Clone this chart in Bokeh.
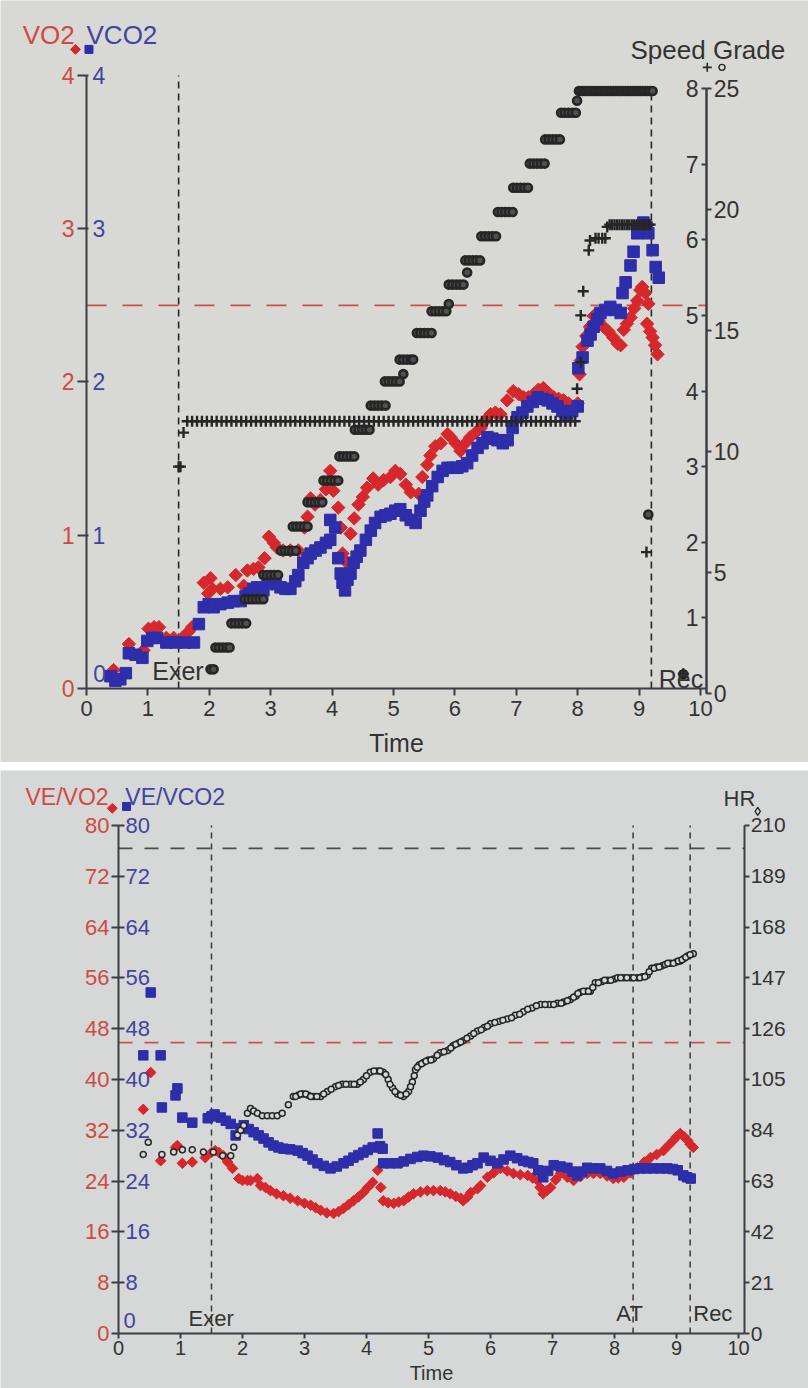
import numpy as np
from bokeh.plotting import figure
from bokeh.models import LinearAxis, FixedTicker, Range1d
from bokeh.layouts import column
from bokeh.core.properties import value
from bokeh.embed import file_html
from bokeh.resources import INLINE

# ====================== DATA : upper panel ======================
VO2_T = [0.44, 0.69, 0.93, 1.01, 1.10, 1.18, 1.30, 1.42, 1.56, 1.66, 1.72, 1.91, 1.98, 2.02,
         2.05, 2.18, 2.30, 2.43, 2.56, 2.62, 2.72, 2.80, 2.90, 2.97, 3.05, 3.10, 3.20, 3.32,
         3.45, 3.55, 3.60, 3.65, 3.72, 3.81, 3.90, 3.97, 4.02, 4.10, 4.14, 4.17, 4.22, 4.30,
         4.36, 4.43, 4.50, 4.57, 4.67, 4.75, 4.84, 4.95, 5.03, 5.11, 5.20, 5.28, 5.41, 5.47,
         5.55, 5.60, 5.68, 5.77, 5.88, 5.93, 6.01, 6.09, 6.17, 6.25, 6.34, 6.42, 6.50, 6.58,
         6.66, 6.74, 6.85, 6.95, 7.04, 7.12, 7.20, 7.28, 7.36, 7.44, 7.52, 7.61, 7.69, 7.77,
         7.85, 7.93, 8.00, 8.03, 8.05, 8.08, 8.14, 8.20, 8.26, 8.34, 8.42, 8.50, 8.58, 8.65,
         8.70, 8.75, 8.80, 8.86, 8.92, 8.97, 9.02, 9.05, 9.10, 9.15, 9.13, 9.18, 9.22, 9.26, 9.30]
VO2 = [0.12, 0.29, 0.25, 0.39, 0.40, 0.40, 0.33, 0.33, 0.33, 0.37, 0.40, 0.69, 0.62, 0.72,
       0.65, 0.65, 0.66, 0.74, 0.67, 0.77, 0.78, 0.79, 0.85, 0.99, 0.95, 0.92, 0.90, 0.90,
       0.90, 1.05, 1.12, 1.24, 1.20, 1.23, 1.30, 1.42, 1.29, 1.18, 1.05, 0.88, 0.83, 1.01,
       1.11, 1.20, 1.25, 1.31, 1.37, 1.33, 1.36, 1.38, 1.42, 1.40, 1.33, 1.28, 1.27, 1.38,
       1.46, 1.52, 1.58, 1.60, 1.66, 1.64, 1.60, 1.55, 1.60, 1.64, 1.67, 1.70, 1.75, 1.79,
       1.80, 1.79, 1.88, 1.94, 1.92, 1.90, 1.90, 1.92, 1.95, 1.96, 1.93, 1.90, 1.89, 1.88,
       1.86, 1.84, 1.86, 2.05, 2.14, 2.23, 2.30, 2.36, 2.43, 2.40, 2.36, 2.33, 2.29, 2.25,
       2.24, 2.34, 2.38, 2.42, 2.48, 2.53, 2.60, 2.62, 2.58, 2.51, 2.38, 2.33, 2.29, 2.24, 2.18]

VCO2_T = [0.39, 0.47, 0.55, 0.64, 0.69, 0.80, 0.91, 0.99, 1.07, 1.15, 1.30, 1.45, 1.60, 1.75,
          1.83, 1.91, 1.99, 2.07, 2.18, 2.30, 2.40, 2.51, 2.59, 2.65, 2.72, 2.78, 2.88, 2.95,
          3.00, 3.08, 3.16, 3.24, 3.32, 3.40, 3.45, 3.53, 3.60, 3.65, 3.73, 3.81, 3.90, 3.97,
          3.97, 4.05, 4.10, 4.14, 4.17, 4.21, 4.25, 4.30, 4.35, 4.40, 4.46, 4.55, 4.63, 4.70,
          4.79, 4.87, 4.95, 5.03, 5.11, 5.20, 5.28, 5.36, 5.44, 5.50, 5.55, 5.63, 5.72, 5.80,
          5.88, 5.96, 6.04, 6.12, 6.20, 6.28, 6.37, 6.45, 6.53, 6.61, 6.69, 6.78, 6.86, 6.94,
          7.02, 7.10, 7.18, 7.27, 7.35, 7.43, 7.51, 7.59, 7.67, 7.75, 7.83, 7.91, 8.00, 8.01,
          8.08, 8.16, 8.21, 8.26, 8.32, 8.37, 8.45, 8.53, 8.62, 8.70, 8.73, 8.78, 8.86, 8.91,
          8.97, 9.02, 9.07, 9.12, 9.15, 9.22, 9.27, 9.32]
VCO2 = [0.08, 0.05, 0.06, 0.10, 0.23, 0.22, 0.20, 0.31, 0.33, 0.33, 0.30, 0.30, 0.30, 0.30,
        0.42, 0.53, 0.55, 0.53, 0.55, 0.56, 0.57, 0.57, 0.60, 0.62, 0.65, 0.66, 0.64, 0.70,
        0.71, 0.68, 0.66, 0.65, 0.65, 0.70, 0.74, 0.82, 0.85, 0.88, 0.90, 0.92, 0.95, 0.97,
        1.10, 1.05, 0.85, 0.75, 0.69, 0.64, 0.71, 0.75, 0.82, 0.86, 0.90, 0.97, 1.03, 1.08,
        1.12, 1.13, 1.14, 1.16, 1.17, 1.13, 1.10, 1.08, 1.16, 1.22, 1.26, 1.32, 1.38, 1.42,
        1.44, 1.44, 1.44, 1.45, 1.47, 1.52, 1.57, 1.60, 1.64, 1.63, 1.62, 1.60, 1.62, 1.70,
        1.77, 1.80, 1.84, 1.87, 1.90, 1.89, 1.88, 1.86, 1.84, 1.81, 1.79, 1.81, 1.84, 2.09,
        2.16, 2.27, 2.31, 2.36, 2.41, 2.45, 2.47, 2.49, 2.47, 2.45, 2.58, 2.65, 2.76, 2.85,
        2.97, 3.01, 3.04, 3.01, 2.97, 2.86, 2.75, 2.68]

SPEED_T = [1.50, 1.53, 1.58,
           1.64, 1.72, 1.80, 1.88, 1.96, 2.04, 2.12, 2.20, 2.28, 2.36, 2.44, 2.52, 2.60, 2.68,
           2.76, 2.84, 2.92, 3.00, 3.08, 3.16, 3.24, 3.32, 3.40, 3.48, 3.56, 3.64, 3.72, 3.80,
           3.88, 3.96, 4.04, 4.12, 4.20, 4.28, 4.36, 4.44, 4.52, 4.60, 4.68, 4.76, 4.84, 4.92,
           5.00, 5.08, 5.16, 5.24, 5.32, 5.40, 5.48, 5.56, 5.64, 5.72, 5.80, 5.88, 5.96, 6.04,
           6.12, 6.20, 6.28, 6.36, 6.44, 6.52, 6.60, 6.68, 6.76, 6.84, 6.92, 7.00, 7.08, 7.16,
           7.24, 7.32, 7.40, 7.48, 7.56, 7.64, 7.72, 7.80, 7.88, 7.96,
           7.99, 8.05, 8.05, 8.09, 8.18, 8.20, 8.29, 8.34, 8.40, 8.45, 8.48,
           8.52, 8.56, 8.60, 8.64, 8.68, 8.72, 8.76, 8.80, 8.84, 8.88, 8.92, 8.96, 9.00, 9.04,
           9.08, 9.12, 9.16, 9.18,
           9.12, 9.72]
SPEED = [3.0, 3.0, 3.45,
         3.6, 3.6, 3.6, 3.6, 3.6, 3.6, 3.6, 3.6, 3.6, 3.6, 3.6, 3.6, 3.6, 3.6,
         3.6, 3.6, 3.6, 3.6, 3.6, 3.6, 3.6, 3.6, 3.6, 3.6, 3.6, 3.6, 3.6, 3.6,
         3.6, 3.6, 3.6, 3.6, 3.6, 3.6, 3.6, 3.6, 3.6, 3.6, 3.6, 3.6, 3.6, 3.6,
         3.6, 3.6, 3.6, 3.6, 3.6, 3.6, 3.6, 3.6, 3.6, 3.6, 3.6, 3.6, 3.6, 3.6,
         3.6, 3.6, 3.6, 3.6, 3.6, 3.6, 3.6, 3.6, 3.6, 3.6, 3.6, 3.6, 3.6, 3.6,
         3.6, 3.6, 3.6, 3.6, 3.6, 3.6, 3.6, 3.6, 3.6, 3.6,
         4.03, 4.38, 5.0, 5.32, 5.86, 5.99, 6.02, 6.02, 6.02, 6.02, 6.17,
         6.2, 6.2, 6.2, 6.2, 6.2, 6.2, 6.2, 6.2, 6.2, 6.2, 6.2, 6.2, 6.2, 6.2,
         6.2, 6.2, 6.2, 6.2,
         1.87, 0.26]

GRADE_T = [2.02, 2.07,
           2.10, 2.16, 2.22, 2.28, 2.33,
           2.36, 2.42, 2.48, 2.54, 2.60,
           2.58, 2.64, 2.70, 2.76, 2.82, 2.88,
           2.88, 2.94, 3.00, 3.06, 3.12,
           3.17, 3.23, 3.29, 3.35, 3.41,
           3.36, 3.42, 3.48, 3.54, 3.60,
           3.60, 3.66, 3.72, 3.78, 3.84,
           3.86, 3.92, 3.98, 4.04, 4.10,
           4.12, 4.18, 4.24, 4.30, 4.36,
           4.37, 4.43, 4.49, 4.55, 4.61,
           4.63, 4.69, 4.75, 4.81, 4.87,
           4.86, 4.92, 4.98, 5.04, 5.10,
           5.10, 5.16, 5.22, 5.28, 5.32, 5.16,
           5.38, 5.44, 5.50, 5.56, 5.62,
           5.62, 5.68, 5.74, 5.80, 5.86, 5.90,
           5.90, 5.96, 6.02, 6.08, 6.14, 6.20,
           6.17, 6.23, 6.29, 6.35, 6.41,
           6.43, 6.49, 6.55, 6.61, 6.67,
           6.70, 6.76, 6.82, 6.88, 6.94,
           6.95, 7.01, 7.07, 7.13, 7.19,
           7.22, 7.28, 7.34, 7.40, 7.46,
           7.47, 7.53, 7.59, 7.65, 7.71,
           7.73, 7.79, 7.85, 7.91, 7.97, 7.99,
           8.02, 8.06, 8.10, 8.14, 8.18, 8.22, 8.26, 8.30, 8.34, 8.38, 8.42, 8.46, 8.50,
           8.54, 8.58, 8.62, 8.66, 8.70, 8.74, 8.78, 8.82, 8.86, 8.90, 8.94, 8.98, 9.02,
           9.06, 9.10, 9.14, 9.18, 9.22,
           9.15, 9.72]
GRADE = [1.0, 1.0,
         1.9, 1.9, 1.9, 1.9, 1.9,
         2.9, 2.9, 2.9, 2.9, 2.9,
         3.9, 3.9, 3.9, 3.9, 3.9, 3.9,
         4.9, 4.9, 4.9, 4.9, 4.9,
         5.9, 5.9, 5.9, 5.9, 5.9,
         6.9, 6.9, 6.9, 6.9, 6.9,
         7.9, 7.9, 7.9, 7.9, 7.9,
         8.8, 8.8, 8.8, 8.8, 8.8,
         9.8, 9.8, 9.8, 9.8, 9.8,
         10.9, 10.9, 10.9, 10.9, 10.9,
         11.9, 11.9, 11.9, 11.9, 11.9,
         12.9, 12.9, 12.9, 12.9, 12.9,
         13.8, 13.8, 13.8, 13.8, 13.8, 13.2,
         14.9, 14.9, 14.9, 14.9, 14.9,
         15.8, 15.8, 15.8, 15.8, 15.8, 16.1,
         16.9, 16.9, 16.9, 16.9, 16.9, 17.4,
         17.9, 17.9, 17.9, 17.9, 17.9,
         18.9, 18.9, 18.9, 18.9, 18.9,
         19.9, 19.9, 19.9, 19.9, 19.9,
         20.9, 20.9, 20.9, 20.9, 20.9,
         21.9, 21.9, 21.9, 21.9, 21.9,
         22.9, 22.9, 22.9, 22.9, 22.9,
         24.0, 24.0, 24.0, 24.0, 24.0, 24.5,
         24.9, 24.9, 24.9, 24.9, 24.9, 24.9, 24.9, 24.9, 24.9, 24.9, 24.9, 24.9, 24.9,
         24.9, 24.9, 24.9, 24.9, 24.9, 24.9, 24.9, 24.9, 24.9, 24.9, 24.9, 24.9, 24.9,
         24.9, 24.9, 24.9, 24.9, 24.9,
         7.4, 0.8]

TOP_TIME_TICKS = [0, 1, 2, 3, 4, 5, 6, 7, 8, 9, 10]
VO2_TICKS = [0, 1, 2, 3, 4]
VCO2_TICKS = [1, 2, 3, 4]
SPEED_TICKS = [1, 2, 3, 4, 5, 6, 7, 8]
GRADE_TICKS = [0, 5, 10, 15, 20, 25]
TOP_EXER_T = 1.5
TOP_REC_T = 9.2
VO2_REF_LINE = 2.5

# ====================== DATA : lower panel ======================
HR_T = [0.40, 0.48, 0.70, 0.89, 1.03, 1.19, 1.37, 1.53, 1.68, 1.81, 1.86, 1.92, 1.97, 2.02,
        2.08, 2.13, 2.18, 2.24, 2.32, 2.40, 2.48, 2.56, 2.64, 2.74, 2.82, 2.90, 2.98, 3.06,
        3.15, 3.26, 3.37, 3.50, 3.61, 3.74, 3.85, 3.95, 4.06, 4.18, 4.27, 4.35, 4.42, 4.50,
        4.60, 4.68, 4.74, 4.79, 4.85, 4.92, 5.00, 5.08, 5.19, 5.31, 5.40, 5.48, 5.56, 5.68,
        5.79, 5.90, 6.00, 6.14, 6.27, 6.40, 6.53, 6.67, 6.81, 6.95, 7.08, 7.18, 7.29, 7.38,
        7.45, 7.55, 7.61, 7.69, 7.80, 7.89, 8.00, 8.15, 8.26, 8.37, 8.45, 8.53, 8.60, 8.68,
        8.77, 8.90, 9.00, 9.06, 9.12, 9.18, 9.27,
        2.86, 2.94, 3.02, 3.10, 3.20, 3.31, 3.43, 3.55, 3.67, 3.80, 3.90, 4.00, 4.12, 4.22,
        4.31, 4.38, 4.46, 4.55, 4.64, 4.71, 4.77, 4.82, 4.89, 4.96, 5.04,
        5.14, 5.25, 5.36, 5.44, 5.52, 5.62, 5.73, 5.85, 5.95, 6.07, 6.20, 6.34, 6.47, 6.60,
        6.74, 6.88, 7.02, 7.14, 7.24, 7.34, 7.41, 7.50, 7.58, 7.65, 7.74, 7.84, 7.94, 8.05,
        8.10, 8.20, 8.31, 8.41, 8.49, 8.56, 8.64, 8.72, 8.82, 8.86, 8.95, 9.03, 9.09, 9.15,
        9.22]
HR = [74, 79, 74, 75, 76, 76, 75, 75, 73.5, 73.5, 77, 82, 84, 86,
      91, 93, 92, 91, 90, 90, 90, 90, 91, 94.5, 98, 98.5, 99, 98.5,
      98, 98, 100, 102, 103, 103, 103, 105, 108, 108.5, 108, 105, 101.5, 99,
      98, 100, 104, 109, 111, 112, 113, 113.5, 116, 117, 119, 120, 121, 123,
      125, 126.5, 128, 129, 130, 131.5, 133, 134.5, 136, 136, 136.5, 137, 138, 139.5,
      141, 141.5, 141.5, 145, 145.5, 146, 146.5, 147, 147, 147, 147.5, 148, 151, 151.5,
      152, 153, 153.5, 154, 155, 156, 157,
      98, 99, 99, 98, 98, 99, 101, 102.5, 103, 103, 104, 106.5, 108.5, 108.5,
      107, 103, 100, 98.5, 99, 102, 106.5, 110, 111.5, 112.5, 113,
      115, 116.5, 118, 119.5, 120.5, 122, 124, 125.5, 127, 128.5, 129.5, 130.5, 132, 134,
      135.5, 136, 136, 136.5, 137.5, 139, 140.5, 141.5, 141.5, 143, 145, 146, 146, 147,
      147, 147, 147, 147, 147.5, 149.5, 151, 151.5, 152.5, 153, 153, 154, 154.5, 155.5,
      156.5]

VEVO2_T = [0.40, 0.52, 0.68, 0.92, 0.95, 1.03, 1.19, 1.40, 1.50, 1.56, 1.62, 1.69, 1.76, 1.84,
           1.94, 2.00, 2.08, 2.13, 2.24, 2.29, 2.37, 2.45, 2.55, 2.66, 2.77, 2.89, 3.00, 3.10,
           3.18, 3.26, 3.36, 3.47, 3.55, 3.63, 3.71, 3.79, 3.87, 3.95, 4.02, 4.10, 4.18, 4.23,
           4.27, 4.35, 4.44, 4.52, 4.60, 4.68, 4.76, 4.87, 4.98, 5.08, 5.19, 5.27, 5.35, 5.44,
           5.52, 5.56, 5.63, 5.68, 5.79, 5.84, 5.95, 6.05, 6.16, 6.27, 6.37, 6.48, 6.60, 6.68,
           6.76, 6.80, 6.85, 6.91, 6.97, 7.05, 7.13, 7.24, 7.34, 7.45, 7.56, 7.66, 7.77, 7.88,
           7.98, 8.06, 8.15, 8.26, 8.37, 8.48, 8.58, 8.68, 8.79, 8.87, 8.95, 9.00, 9.06, 9.12,
           9.18, 9.22, 9.27]
VEVO2 = [35.3, 41.1, 27.2, 29.3, 29.6, 26.8, 27.0, 27.7, 28.5, 28.8, 28.5, 28.0, 27.0, 26.0,
         24.4, 24.1, 24.1, 24.1, 24.4, 23.3, 23.0, 22.5, 22.0, 21.7, 21.3, 20.9, 20.5, 20.2,
         19.8, 19.4, 19.0, 18.9, 19.2, 19.7, 20.3, 20.9, 21.5, 22.2, 23.0, 23.8, 25.7, 23.0,
         20.9, 20.6, 20.5, 20.7, 20.9, 21.5, 22.0, 22.3, 22.5, 22.5, 22.5, 22.3, 22.0, 21.6,
         21.3, 20.9, 21.5, 22.2, 22.8, 23.3, 24.6, 25.3, 26.0, 25.6, 25.2, 25.0, 24.9, 24.5,
         24.1, 23.0, 22.0, 22.5, 23.0, 24.2, 25.2, 24.6, 24.1, 24.7, 25.2, 25.2, 25.2, 24.8,
         24.4, 24.5, 24.6, 25.3, 26.1, 27.0, 27.7, 28.2, 28.8, 29.6, 30.4, 31.0, 31.5, 31.0,
         30.4, 29.8, 29.3]

VEVCO2_T = [0.40, 0.52, 0.68, 0.70, 0.92, 0.95, 1.03, 1.19, 1.44, 1.50, 1.55, 1.65, 1.73, 1.81,
            1.89, 1.97, 2.02, 2.10, 2.18, 2.26, 2.34, 2.42, 2.50, 2.58, 2.66, 2.77, 2.89, 2.97,
            3.05, 3.13, 3.21, 3.31, 3.42, 3.52, 3.63, 3.71, 3.79, 3.87, 3.95, 4.02, 4.10, 4.18,
            4.22, 4.26, 4.27, 4.38, 4.50, 4.60, 4.71, 4.82, 4.92, 5.03, 5.15, 5.25, 5.35, 5.45,
            5.56, 5.63, 5.71, 5.79, 5.89, 6.00, 6.11, 6.21, 6.32, 6.43, 6.53, 6.61, 6.69, 6.77,
            6.85, 6.93, 7.02, 7.13, 7.24, 7.32, 7.40, 7.48, 7.56, 7.66, 7.77, 7.88, 7.98, 8.10,
            8.21, 8.32, 8.42, 8.52, 8.63, 8.74, 8.85, 8.94, 9.02, 9.11, 9.17, 9.23]
VEVCO2 = [43.8, 53.7, 43.8, 35.6, 37.5, 38.6, 34.0, 33.2, 33.9, 34.2, 34.5, 34.0, 33.5, 33.0,
          31.2, 32.3, 32.8, 32.2, 31.7, 31.2, 30.7, 30.1, 29.6, 29.3, 29.1, 29.0, 28.8, 28.4,
          28.0, 27.4, 26.8, 26.4, 26.0, 26.3, 26.8, 27.2, 27.7, 28.1, 28.5, 28.9, 29.3, 31.5,
          29.5, 29.1, 26.8, 26.8, 26.8, 27.1, 27.5, 27.8, 28.0, 27.9, 27.7, 27.3, 27.0, 26.5,
          26.0, 26.1, 26.5, 26.8, 27.7, 27.2, 26.8, 27.4, 28.0, 27.6, 27.2, 27.0, 26.8, 25.7,
          24.6, 25.6, 26.5, 26.3, 26.1, 25.5, 24.9, 25.5, 26.1, 26.0, 26.0, 25.6, 25.2, 25.5,
          25.7, 25.9, 26.0, 26.0, 26.0, 26.0, 26.0, 25.9, 25.7, 24.9, 24.6, 24.4]

BOT_TIME_TICKS = [0, 1, 2, 3, 4, 5, 6, 7, 8, 9, 10]
VEVO2_TICKS = [0, 8, 16, 24, 32, 40, 48, 56, 64, 72, 80]
VEVCO2_TICKS = [8, 16, 24, 32, 40, 48, 56, 64, 72, 80]
HR_TICKS = [0, 21, 42, 63, 84, 105, 126, 147, 168, 189, 210]
BOT_EXER_T = 1.5
BOT_AT_T = 8.3
BOT_REC_T = 9.22
HR_REF_LINE = 200.5
RED_REF_LINE = 45.8

# ====================== STYLE ======================
FONT = "Liberation Sans"
BG_TOP = "#d8d8d4"
BG_BOT = "#d5d8d6"
RED = "#d6282c"
BLUE = "#2e2eab"
RED_TXT = "#cf4a45"
BLUE_TXT = "#4343a2"
BLACK = "#262626"
AXC = "#3d3d44"
TXT = "#333333"


def add_axis(p, side, ticks, fixed, bounds, color, size, tick_out, standoff,
             range_name=None, label=None, label_size=None, label_standoff=0, line=True):
    kw = {}
    if range_name is not None:
        kw["y_range_name"] = range_name
    ax = LinearAxis(fixed_location=fixed, bounds=bounds, ticker=FixedTicker(ticks=ticks), **kw)
    ax.major_label_text_color = color
    ax.major_label_text_font = FONT
    ax.major_label_text_font_size = size
    ax.major_tick_out = tick_out
    ax.major_tick_in = 0
    ax.minor_tick_out = 0
    ax.minor_tick_in = 0
    ax.major_tick_line_color = AXC
    ax.major_tick_line_width = 2
    ax.axis_line_color = AXC if line else None
    ax.axis_line_width = 2
    ax.major_label_standoff = standoff
    if label is not None:
        ax.axis_label = label
        ax.axis_label_text_font = FONT
        ax.axis_label_text_font_size = label_size
        ax.axis_label_text_font_style = "normal"
        ax.axis_label_text_color = TXT
        ax.axis_label_standoff = label_standoff
    p.add_layout(ax, side)
    return ax


def txt(p, x, y, s, color, size, range_name="default", align="left"):
    p.text(x=[x], y=[y], text=[s], text_color=color, text_font=value(FONT),
           text_font_size=value(size), text_baseline="alphabetic", text_align=align,
           y_range_name=range_name)


# ====================== UPPER FIGURE ======================
W = 808
H1 = 762
p1 = figure(width=W, height=H1, output_backend="svg", toolbar_location=None,
            x_range=Range1d(-1.401, 11.759), y_range=Range1d(-0.483, 4.489),
            x_axis_type=None, y_axis_type=None, min_border=0)
p1.extra_y_ranges = {"speed": Range1d(-0.912, 9.164), "grade": Range1d(-2.85, 28.64)}
p1.background_fill_color = BG_TOP
p1.border_fill_color = BG_TOP
p1.outline_line_color = None

# reference lines
p1.segment(x0=[0], y0=[VO2_REF_LINE], x1=[10.1], y1=[VO2_REF_LINE], line_color="#d0504c",
           line_width=1.6, line_dash="20 16")
p1.segment(x0=[TOP_EXER_T, TOP_REC_T], y0=[0, 0], x1=[TOP_EXER_T, TOP_REC_T], y1=[4.0, 3.93],
           line_color=BLACK, line_width=1.6, line_dash="7 5")

# data
p1.scatter(VO2_T, VO2, marker="square", angle=np.pi / 4, size=9.5, fill_color=RED, line_color=RED)
p1.scatter(VCO2_T, VCO2, marker="square", size=11.5, fill_color=BLUE, line_color=BLUE)
p1.scatter(GRADE_T, GRADE, marker="circle", size=8, fill_color="#505050", line_color=BLACK,
           line_width=2.6, y_range_name="grade")
p1.scatter(SPEED_T, SPEED, marker="cross", size=11, line_color=BLACK, line_width=2.4,
           y_range_name="speed")

# axes
add_axis(p1, "below", TOP_TIME_TICKS, 0, (0, 10.1), TXT, "22px", 7, 6,
         label="Time", label_size="25px", label_standoff=9)
add_axis(p1, "left", VO2_TICKS, 0, (0, 4), RED_TXT, "23px", 9, 3)
add_axis(p1, "right", VCO2_TICKS, 0, (0, 4), BLUE_TXT, "23px", 2, 4, line=False)
add_axis(p1, "left", SPEED_TICKS, 10.1, (0, 8), TXT, "23px", 5, 3, range_name="speed")
add_axis(p1, "right", GRADE_TICKS, 10.1, (0, 25), TXT, "23px", 5, 2, range_name="grade")

# texts & legend symbols
txt(p1, -1.04, 4.263, "VO2", RED_TXT, "26px")
txt(p1, 0.0, 4.263, "VCO2", BLUE_TXT, "26px")
txt(p1, 8.86, 4.163, "Speed Grade", TXT, "26px")
txt(p1, 1.07, 0.117, "Exer", TXT, "25px")
txt(p1, 9.32, 0.065, "Rec", TXT, "25px")
txt(p1, 0.11, 0.10, "0", BLUE_TXT, "23px")
p1.scatter([-0.18], [4.17], marker="square", angle=np.pi / 4, size=7, fill_color=RED, line_color=RED)
p1.scatter([0.04], [4.17], marker="square", size=8, fill_color=BLUE, line_color=BLUE)
p1.scatter([10.11], [8.28], marker="cross", size=9, line_color=BLACK, line_width=1.6,
           y_range_name="speed")
p1.scatter([10.35], [8.28], marker="circle", size=6, fill_color=BG_TOP, line_color=BLACK,
           line_width=1.4, y_range_name="speed")

# ====================== LOWER FIGURE ======================
H2 = 618
p2 = figure(width=W, height=H2, output_backend="svg", toolbar_location=None,
            x_range=Range1d(-1.903, 11.129), y_range=Range1d(-8.66, 88.66),
            x_axis_type=None, y_axis_type=None, min_border=0)
p2.extra_y_ranges = {"hr": Range1d(-22.73, 232.7)}
p2.background_fill_color = BG_BOT
p2.border_fill_color = BG_BOT
p2.outline_line_color = None

p2.segment(x0=[0], y0=[HR_REF_LINE], x1=[10.1], y1=[HR_REF_LINE], line_color="#4a4a4a",
           line_width=1.6, line_dash="14 12", y_range_name="hr")
p2.segment(x0=[0], y0=[RED_REF_LINE], x1=[10.1], y1=[RED_REF_LINE], line_color="#d0504c",
           line_width=1.6, line_dash="14 12")
p2.segment(x0=[BOT_EXER_T, BOT_AT_T, BOT_REC_T], y0=[0, 0, 0],
           x1=[BOT_EXER_T, BOT_AT_T, BOT_REC_T], y1=[80, 80, 80],
           line_color="#3a3a3a", line_width=1.5, line_dash="6 5")

p2.scatter(VEVO2_T, VEVO2, marker="square", angle=np.pi / 4, size=7.5, fill_color=RED, line_color=RED)
p2.scatter(VEVCO2_T, VEVCO2, marker="square", size=9.5, fill_color=BLUE, line_color=BLUE)
p2.scatter(HR_T, HR, marker="circle", size=6, fill_color=BG_BOT, line_color=BLACK,
           line_width=1.5, y_range_name="hr")

add_axis(p2, "below", BOT_TIME_TICKS, 0, (0, 10.1), TXT, "20px", 5, 2,
         label="Time", label_size="20px", label_standoff=4)
add_axis(p2, "left", VEVO2_TICKS, 0, (0, 80), RED_TXT, "22px", 7, 2)
add_axis(p2, "right", VEVCO2_TICKS, 0, (0, 80), BLUE_TXT, "22px", 6, 1, line=False)
add_axis(p2, "right", HR_TICKS, 10.1, (0, 210), TXT, "21px", 5, 1, range_name="hr")

txt(p2, -1.50, 84.5, "VE/VO2", RED_TXT, "23px")
txt(p2, 0.11, 84.5, "VE/VCO2", BLUE_TXT, "23px")
txt(p2, 9.76, 84.3, "HR", TXT, "22px")
txt(p2, 1.13, 2.4, "Exer", TXT, "22px")
txt(p2, 8.03, 3.1, "AT", TXT, "22px")
txt(p2, 9.27, 3.1, "Rec", TXT, "22px")
txt(p2, 0.08, 2.0, "0", BLUE_TXT, "22px")
p2.scatter([-0.10], [82.7], marker="square", angle=np.pi / 4, size=7, fill_color=RED, line_color=RED)
p2.scatter([0.13], [83.0], marker="square", size=8, fill_color=BLUE, line_color=BLUE)
p2.scatter([10.31], [215.8], marker="diamond", size=8, fill_color=BG_BOT, line_color=BLACK,
           line_width=1.3, y_range_name="hr")

layout = column(p1, p2, spacing=8)
open("out.html", "w").write(file_html(layout, INLINE))
